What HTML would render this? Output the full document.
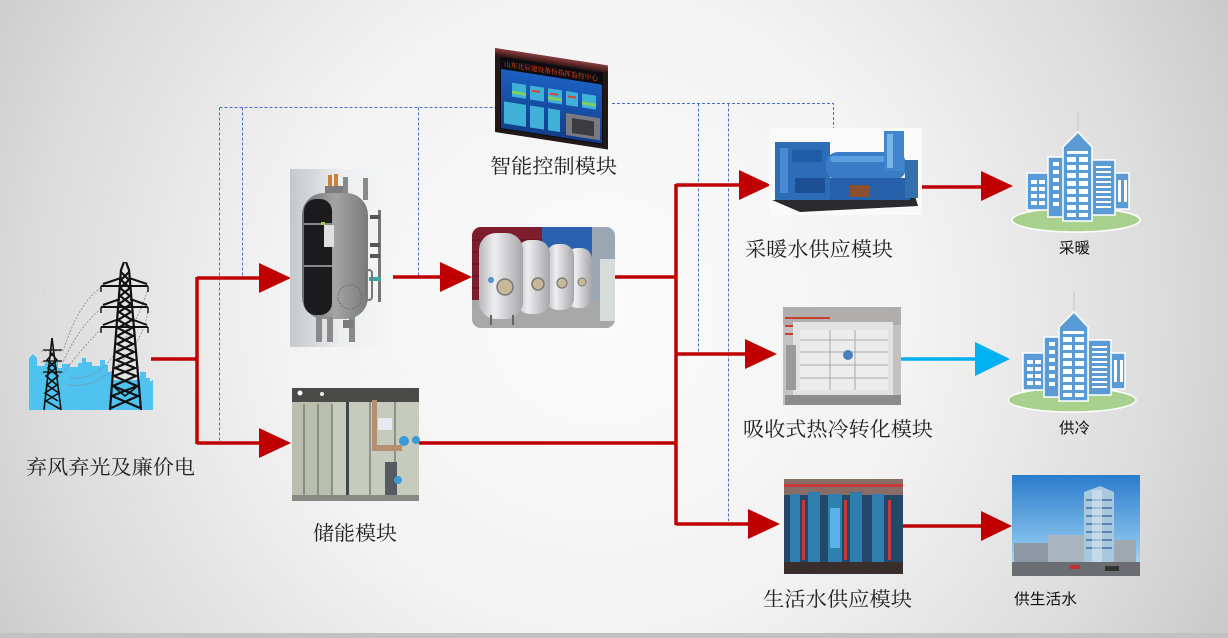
<!DOCTYPE html>
<html><head><meta charset="utf-8"><style>
html,body{margin:0;padding:0;}
body{width:1228px;height:638px;overflow:hidden;}
svg{display:block;}
.lab{font-family:"Liberation Serif","Noto Serif CJK SC",serif;font-size:20px;fill:#222;}
.lab2{font-family:"Liberation Sans","Noto Sans CJK SC",sans-serif;font-size:15px;fill:#111;}
</style></head><body>
<svg width="1228" height="638" viewBox="0 0 1228 638" xmlns="http://www.w3.org/2000/svg">
<defs>
<radialGradient id="bg" gradientUnits="userSpaceOnUse" cx="600" cy="310" r="700">
<stop offset="0" stop-color="#fafafa"/><stop offset="0.45" stop-color="#f3f3f3"/><stop offset="0.8" stop-color="#dcdcdc"/><stop offset="1" stop-color="#cacaca"/>
</radialGradient>
<linearGradient id="vbg" x1="0" y1="0" x2="1" y2="0"><stop offset="0" stop-color="#c4c8cc"/><stop offset="0.5" stop-color="#eceeef"/><stop offset="1" stop-color="#f6f6f6"/></linearGradient>
<linearGradient id="vbody" x1="0" y1="0" x2="1" y2="0"><stop offset="0" stop-color="#6e6e6e"/><stop offset="0.5" stop-color="#a4a4a4"/><stop offset="1" stop-color="#7a7a7a"/></linearGradient>
<linearGradient id="tank" x1="0" y1="0" x2="1" y2="0"><stop offset="0" stop-color="#b8b8bc"/><stop offset="0.35" stop-color="#eeeef0"/><stop offset="1" stop-color="#a6a6aa"/></linearGradient>
<linearGradient id="sky" x1="0" y1="0" x2="0" y2="1"><stop offset="0" stop-color="#2a7ccc"/><stop offset="0.7" stop-color="#86c2ec"/><stop offset="1" stop-color="#c8e2f2"/></linearGradient>
<linearGradient id="scr" x1="0" y1="0" x2="0" y2="1"><stop offset="0" stop-color="#1b5fc0"/><stop offset="1" stop-color="#123e8a"/></linearGradient>
<linearGradient id="bev" x1="0" y1="0" x2="0" y2="1"><stop offset="0" stop-color="#8a4040"/><stop offset="1" stop-color="#3a1616"/></linearGradient>
<clipPath id="tc"><rect x="472" y="227" width="143" height="101" rx="9"/></clipPath>
<g id="bld">
<ellipse cx="1076" cy="220" rx="64" ry="12" fill="#a9d18e" stroke="#fff" stroke-width="1.5"/>
<line x1="1078" y1="112" x2="1078" y2="134" stroke="#cfcfcf" stroke-width="1.5"/>
<rect x="1027" y="173" width="22" height="37" fill="#5b9bd5" stroke="#fff" stroke-width="1.5"/>
<rect x="1115" y="173" width="14" height="36" fill="#5b9bd5" stroke="#fff" stroke-width="1.5"/>
<rect x="1048" y="157" width="16" height="60" fill="#5b9bd5" stroke="#fff" stroke-width="1.5"/>
<rect x="1092" y="160" width="23" height="55" fill="#5b9bd5" stroke="#fff" stroke-width="1.5"/>
<path d="M1063 147 L1078 132 L1092 147 V221 H1063 Z" fill="#5b9bd5" stroke="#fff" stroke-width="1.5"/>
<g fill="#fff">
<rect x="1067" y="151" width="21" height="3"/>
<rect x="1067" y="157" width="9" height="5"/><rect x="1079" y="157" width="9" height="5"/>
<rect x="1067" y="165" width="9" height="5"/><rect x="1079" y="165" width="9" height="5"/>
<rect x="1067" y="173" width="9" height="5"/><rect x="1079" y="173" width="9" height="5"/>
<rect x="1067" y="181" width="9" height="5"/><rect x="1079" y="181" width="9" height="5"/>
<rect x="1067" y="189" width="9" height="5"/><rect x="1079" y="189" width="9" height="5"/>
<rect x="1067" y="197" width="9" height="5"/><rect x="1079" y="197" width="9" height="5"/>
<rect x="1067" y="205" width="9" height="5"/><rect x="1079" y="205" width="9" height="5"/>
<rect x="1067" y="213" width="9" height="4"/><rect x="1079" y="213" width="9" height="4"/>
<rect x="1053" y="162" width="6" height="4"/><rect x="1053" y="170" width="6" height="4"/><rect x="1053" y="178" width="6" height="4"/><rect x="1053" y="186" width="6" height="4"/><rect x="1053" y="194" width="6" height="4"/><rect x="1053" y="202" width="6" height="4"/>
<rect x="1031" y="180" width="6" height="4"/><rect x="1039" y="180" width="6" height="4"/>
<rect x="1031" y="187" width="6" height="4"/><rect x="1039" y="187" width="6" height="4"/>
<rect x="1031" y="194" width="6" height="4"/><rect x="1039" y="194" width="6" height="4"/>
<rect x="1031" y="201" width="6" height="4"/><rect x="1039" y="201" width="6" height="4"/>
<rect x="1096" y="166" width="15" height="2"/><rect x="1096" y="171" width="15" height="2"/><rect x="1096" y="176" width="15" height="2"/><rect x="1096" y="181" width="15" height="2"/><rect x="1096" y="186" width="15" height="2"/><rect x="1096" y="191" width="15" height="2"/><rect x="1096" y="196" width="15" height="2"/><rect x="1096" y="201" width="15" height="2"/><rect x="1096" y="206" width="15" height="2"/>
<rect x="1118" y="180" width="3" height="22"/><rect x="1124" y="180" width="3" height="22"/>
</g>
</g>
</defs>

<rect x="0" y="0" width="1228" height="638" fill="url(#bg)"/>
<rect x="0" y="633" width="1228" height="5" fill="#c2c2c2"/>

<!-- dashed control lines -->
<g stroke="#4472c4" stroke-width="1" stroke-dasharray="3,2" fill="none">
<path d="M219.5 107.5 H497"/>
<path d="M219.5 107.5 V443"/>
<path d="M242.5 107.5 V276"/>
<path d="M418.5 107.5 V276"/>
<path d="M612 103.5 H833.5 V132"/>
<path d="M698.5 103.5 V352"/>
<path d="M728.5 103.5 V521"/>
</g>

<!-- power tower -->
<g>
<path d="M29 410 V358 L33 354 L37 358 V366 L44 366 L46 362 H58 V368 H62 V364 H70 V367 H78 V363 H82 V358 H86 V362 H92 V366 H100 V360 H105 V365 H108 V372 H112 V380 H140 V372 H146 V378 H150 V382 L153 380 V410 Z" fill="#4fc2ef"/>
<g fill="none" stroke="#888" stroke-width="0.8" stroke-dasharray="2,1.5">
<path d="M101 288 Q80 300 63 351"/><path d="M101 309 Q80 325 63 362"/><path d="M101 329 Q85 345 63 373"/>
<path d="M148 288 Q140 320 110 360 Q95 380 70 378"/><path d="M148 309 Q145 340 115 368 Q90 390 66 384"/>
<path d="M41 351 H63 M41 362 H63 M41 373 H63"/>
</g>
<!-- small tower -->
<g stroke="#111" stroke-width="1.6" fill="none">
<path d="M52 338 L44 410 M52 338 L61 410"/>
<path d="M50 352 L57 360 L48 368 L58 376 L47 385 L59 393 L46 401 L60 409"/>
<path d="M54 352 L47 360 L56 368 L46 376 L57 385 L45 393 L58 401"/>
<path d="M43 350 H62 M43 361 H62 M43 372 H62" stroke-width="1.2"/>
</g>
<!-- big tower -->
<g stroke="#111" stroke-width="2.2" fill="none">
<path d="M124 262 L121 270 L110 410 M126 262 L129 270 L141 410"/>
<path d="M121 272 L129 280 L120 288 L130 296 L119 304 L131 312 L118 320 L132 328 L117 336 L133 344 L116 352 L134 360 L115 368 L136 376 L113 386 L138 396 L111 408"/>
<path d="M129 272 L121 280 L130 288 L120 296 L131 304 L119 312 L132 320 L118 328 L133 336 L117 344 L134 352 L116 360 L135 368 L114 376 L137 386 L112 396 L140 408"/>
<path d="M101 286 H148 M103 284 L121 278 M147 284 L129 278" stroke-width="2"/>
<path d="M101 307 H148 M103 305 L120 299 M147 305 L130 299" stroke-width="2"/>
<path d="M101 327 H148 M103 325 L119 319 M147 325 L131 319" stroke-width="2"/>
<path d="M101 286 V292 M148 286 V292 M101 307 V313 M148 307 V313 M101 327 V333 M148 327 V333" stroke-width="1.4"/>
<path d="M113 386 L125 396 L138 386" stroke-width="1.6"/>
</g>
</g>

<!-- red flow lines -->
<g stroke="#c00000" stroke-width="3.5" fill="none">
<path d="M151 359 H197"/>
<path d="M197 277 V444"/>
<path d="M197 278 H262"/>
<path d="M197 443 H262"/>
<path d="M388 277 H442"/>
<path d="M612 277 H676"/>
<path d="M676 184 V525"/>
<path d="M419 443 H676"/>
<path d="M676 185 H741"/>
<path d="M676 354 H747"/>
<path d="M676 524 H750"/>
<path d="M920 187 H983"/>
<path d="M903 526 H983"/>
</g>
<path d="M901 359 H977" stroke="#00b0f0" stroke-width="3.5" fill="none"/>
<g fill="#c00000">
<polygon points="259,263 291,278 259,293"/>
<polygon points="259,428 291,443 259,458"/>
<polygon points="440,262 472,277 440,292"/>
<polygon points="739,170 771,185 739,200"/>
<polygon points="745,339 777,354 745,369"/>
<polygon points="748,509 780,524 748,539"/>
<polygon points="981,171 1013,186 981,201"/>
<polygon points="981,511 1012,526 981,541"/>
</g>
<polygon points="975,342 1010,359 975,376" fill="#00b0f0"/>

<!-- vessel image -->
<g>
<rect x="290" y="169" width="103" height="178" fill="url(#vbg)"/>
<rect x="328" y="175" width="4" height="16" fill="#c8803a"/><rect x="334" y="174" width="4" height="17" fill="#c8803a"/>
<rect x="325" y="186" width="20" height="8" fill="#7c7c7c"/>
<rect x="343" y="177" width="5" height="20" fill="#888"/>
<rect x="363" y="178" width="5" height="22" fill="#8a8a8a"/>
<rect x="302" y="193" width="66" height="126" rx="22" fill="url(#vbody)"/>
<rect x="304" y="199" width="28" height="116" rx="12" fill="#1b1b1d"/>
<rect x="304" y="223" width="28" height="2" fill="#888"/>
<rect x="304" y="265" width="28" height="2" fill="#888"/>
<rect x="324" y="225" width="10" height="22" fill="#e0e0e0"/>
<rect x="321" y="222" width="4" height="3" fill="#9ccc3a"/>
<circle cx="350" cy="297" r="12" fill="none" stroke="#666" stroke-width="1" stroke-dasharray="1.5,1.5"/>
<rect x="378" y="210" width="3" height="92" fill="#777"/>
<rect x="370" y="215" width="10" height="4" fill="#555"/><rect x="370" y="243" width="10" height="4" fill="#555"/><rect x="370" y="254" width="10" height="4" fill="#555"/>
<rect x="369" y="277" width="12" height="4" fill="#3aa8a0"/>
<rect x="366" y="270" width="6" height="30" rx="3" fill="none" stroke="#777" stroke-width="2"/>
<rect x="316" y="317" width="6" height="25" fill="#8a8a8a"/><rect x="327" y="317" width="6" height="25" fill="#8a8a8a"/><rect x="349" y="317" width="6" height="25" fill="#8a8a8a"/>
<rect x="343" y="320" width="10" height="8" fill="#7a7a7a"/>
</g>

<!-- tanks photo -->
<g clip-path="url(#tc)">
<rect x="472" y="227" width="143" height="101" fill="#b8c0c8"/>
<rect x="472" y="227" width="70" height="75" fill="#7e1d2c"/>
<g stroke="#5e1420" stroke-width="1"><path d="M472 240 H542 M472 252 H542 M472 264 H542 M472 276 H542 M472 288 H542"/></g>
<rect x="542" y="227" width="50" height="32" fill="#2b62b0"/>
<rect x="592" y="227" width="23" height="80" fill="#9aa6b2"/>
<rect x="472" y="300" width="143" height="28" fill="#a8a8a8"/>
<rect x="566" y="248" width="26" height="60" rx="11" fill="url(#tank)"/>
<rect x="546" y="244" width="28" height="66" rx="12" fill="url(#tank)"/>
<rect x="516" y="240" width="34" height="74" rx="14" fill="url(#tank)"/>
<rect x="479" y="233" width="44" height="86" rx="17" fill="url(#tank)"/>
<circle cx="505" cy="287" r="8" fill="#c9b898" stroke="#777" stroke-width="1.5"/>
<circle cx="538" cy="284" r="6" fill="#c9b898" stroke="#777" stroke-width="1.5"/>
<circle cx="562" cy="283" r="5" fill="#c9b898" stroke="#777" stroke-width="1.2"/>
<circle cx="582" cy="282" r="4" fill="#c9b898" stroke="#777" stroke-width="1"/>
<circle cx="491" cy="280" r="3" fill="#5a8fc8"/>
<rect x="600" y="259" width="15" height="62" fill="#d8dcd8"/>
<rect x="490" y="315" width="2" height="10" fill="#666"/><rect x="512" y="315" width="2" height="10" fill="#666"/>
</g>

<!-- storage module photo -->
<g>
<rect x="292" y="388" width="127" height="113" fill="#c7cbbd"/>
<rect x="292" y="388" width="127" height="14" fill="#4a4a48"/>
<circle cx="300" cy="393" r="2.5" fill="#fff"/><circle cx="322" cy="394" r="2" fill="#eee"/>
<rect x="292" y="402" width="40" height="96" fill="#b9beae"/>
<g stroke="#6a6e66" stroke-width="1.2"><path d="M304 404 V495 M318 404 V495 M332 404 V495 M347 402 V500 M370 402 V500 M395 402 V500"/></g>
<rect x="346" y="402" width="3" height="98" fill="#3a4a50"/>
<rect x="372" y="400" width="5" height="50" fill="#b49070"/>
<rect x="372" y="445" width="30" height="6" fill="#b49070"/>
<rect x="385" y="462" width="12" height="34" fill="#555b60"/>
<circle cx="404" cy="441" r="5" fill="#3c9ad8"/><circle cx="416" cy="440" r="4" fill="#3c9ad8"/>
<circle cx="398" cy="480" r="4" fill="#3c9ad8"/>
<rect x="378" y="418" width="14" height="12" fill="#e8e8f0"/>
<rect x="292" y="495" width="127" height="6" fill="#8a8a84"/>
</g>

<!-- control screen -->
<g transform="matrix(1,0.155,0,1,0,-76.7)">
<rect x="495" y="48" width="113" height="84" fill="#221818"/>
<rect x="495" y="48" width="113" height="7" fill="url(#bev)"/>
<rect x="500" y="56" width="103" height="72" fill="#0b0b10"/>
<text x="504" y="65" font-family="Liberation Serif,Noto Serif CJK SC,serif" font-size="7" fill="#ff4a1c" textLength="94" lengthAdjust="spacingAndGlyphs">山东北辰建设备份指挥监控中心</text>
<rect x="501" y="68" width="101" height="59" fill="url(#scr)"/>
<g fill="#3fb0d8">
<rect x="512" y="80" width="14" height="14"/><rect x="530" y="80" width="14" height="14"/><rect x="548" y="80" width="14" height="14"/><rect x="566" y="80" width="12" height="14"/><rect x="582" y="80" width="14" height="14"/>
<rect x="504" y="100" width="22" height="22"/><rect x="530" y="100" width="14" height="22"/><rect x="548" y="100" width="12" height="22"/>
</g>
<g fill="#e04030"><rect x="532" y="84" width="8" height="2"/><rect x="550" y="84" width="8" height="2"/><rect x="568" y="84" width="8" height="2"/></g>
<g fill="#7fd05a"><rect x="512" y="88" width="14" height="3"/><rect x="548" y="88" width="14" height="3"/><rect x="582" y="88" width="14" height="3"/></g>
<rect x="566" y="102" width="34" height="22" fill="#7a7a80"/>
<rect x="572" y="106" width="22" height="15" fill="#3c3c40"/>
</g>

<!-- heating machine -->
<g>
<rect x="769" y="128" width="153" height="87" fill="#fafafa"/>
<polygon points="772,200 800,212 918,206 915,196 800,200" fill="#2a2a2e"/>
<rect x="775" y="142" width="55" height="58" fill="#2d6db8"/>
<rect x="780" y="148" width="8" height="45" fill="#4a8ad0"/>
<rect x="792" y="150" width="30" height="12" fill="#1f5ca6"/>
<rect x="826" y="152" width="80" height="28" rx="12" fill="#3a7dc6"/>
<rect x="830" y="156" width="70" height="6" rx="3" fill="#5aa0e0"/>
<rect x="830" y="178" width="80" height="22" fill="#2560a8"/>
<rect x="884" y="131" width="20" height="40" fill="#3f86cc"/>
<rect x="887" y="134" width="6" height="34" fill="#7ab4e6"/>
<rect x="905" y="160" width="13" height="38" fill="#346fb0"/>
<rect x="850" y="185" width="20" height="12" fill="#8a5030"/>
<rect x="795" y="178" width="30" height="15" fill="#1d4f94"/>
</g>

<!-- absorption machine -->
<g>
<rect x="783" y="307" width="118" height="98" fill="#c4c2c0"/>
<rect x="783" y="307" width="118" height="18" fill="#b0aeac"/>
<g stroke="#c84030" stroke-width="2"><path d="M785 318 H830 M785 326 H826 M785 334 H812"/></g>
<rect x="793" y="322" width="100" height="78" fill="#e2e2e2"/>
<rect x="800" y="330" width="88" height="60" fill="#ececec"/>
<g stroke="#a8a8a8" stroke-width="1"><path d="M800 340 H888 M800 352 H888 M800 365 H888 M800 378 H888 M830 330 V390 M855 330 V390"/></g>
<circle cx="848" cy="355" r="5" fill="#4a80c0"/>
<rect x="785" y="395" width="116" height="10" fill="#8e8c8a"/>
<rect x="786" y="345" width="10" height="45" fill="#9a9a9a"/>
</g>

<!-- domestic water module -->
<g>
<rect x="784" y="479" width="119" height="95" fill="#24486a"/>
<rect x="784" y="479" width="119" height="16" fill="#8a6c66"/>
<g fill="#2f7fae"><rect x="790" y="494" width="10" height="72"/><rect x="808" y="492" width="12" height="74"/><rect x="828" y="494" width="14" height="72"/><rect x="850" y="492" width="12" height="74"/><rect x="872" y="494" width="12" height="72"/></g>
<g fill="#c83838"><rect x="784" y="484" width="119" height="3"/><rect x="802" y="500" width="3" height="60"/><rect x="844" y="500" width="3" height="60"/><rect x="888" y="500" width="3" height="60"/></g>
<rect x="830" y="508" width="10" height="40" fill="#5ab0e8"/>
<rect x="784" y="562" width="119" height="12" fill="#3a2e2c"/>
</g>

<!-- buildings -->
<use href="#bld"/>
<use href="#bld" transform="translate(-4,180)"/>

<!-- office photo -->
<g>
<rect x="1012" y="475" width="128" height="101" fill="url(#sky)"/>
<rect x="1014" y="543" width="40" height="20" fill="#8e98a4"/>
<rect x="1048" y="535" width="36" height="28" fill="#a8b4c0"/>
<rect x="1112" y="540" width="24" height="24" fill="#a0a8b0"/>
<polygon points="1084,492 1100,486 1114,492 1114,566 1084,566" fill="#a8c8e0"/>
<g stroke="#3c6c9a" stroke-width="1.5"><path d="M1086 500 H1112 M1086 508 H1112 M1086 516 H1112 M1086 524 H1112 M1086 532 H1112 M1086 540 H1112 M1086 548 H1112"/></g>
<rect x="1092" y="490" width="10" height="76" fill="#d8e8f4" opacity="0.6"/>
<rect x="1012" y="562" width="128" height="14" fill="#6a6e72"/>
<rect x="1070" y="565" width="10" height="4" fill="#c03030"/><rect x="1105" y="566" width="14" height="5" fill="#333"/>
</g>

<!-- labels -->
<text class="lab" x="26" y="474" textLength="169" lengthAdjust="spacingAndGlyphs">弃风弃光及廉价电</text>
<text class="lab" x="313" y="540" textLength="84" lengthAdjust="spacingAndGlyphs">储能模块</text>
<text class="lab" x="490" y="173" textLength="127" lengthAdjust="spacingAndGlyphs">智能控制模块</text>
<text class="lab" x="745" y="256" textLength="148" lengthAdjust="spacingAndGlyphs">采暖水供应模块</text>
<text class="lab" x="743" y="436" textLength="190" lengthAdjust="spacingAndGlyphs">吸收式热冷转化模块</text>
<text class="lab" x="763" y="606" textLength="149" lengthAdjust="spacingAndGlyphs">生活水供应模块</text>
<text class="lab2" x="1059" y="253" textLength="31" lengthAdjust="spacingAndGlyphs">采暖</text>
<text class="lab2" x="1059" y="433" textLength="31" lengthAdjust="spacingAndGlyphs">供冷</text>
<text class="lab2" x="1014" y="604" textLength="63" lengthAdjust="spacingAndGlyphs">供生活水</text>
</svg>
</body></html>
